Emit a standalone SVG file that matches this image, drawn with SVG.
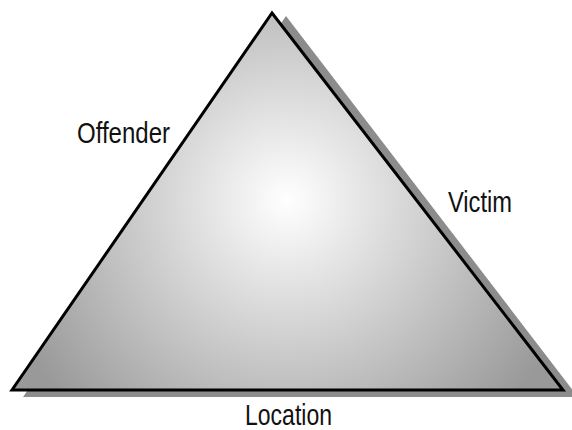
<svg xmlns="http://www.w3.org/2000/svg" width="572" height="430" viewBox="0 0 572 430">
<defs>
<radialGradient id="g" gradientUnits="userSpaceOnUse" cx="287" cy="200" r="300">
<stop offset="0" stop-color="#ffffff"/>
<stop offset="1" stop-color="#999999"/>
</radialGradient>
<style>
.lbl{font-family:"Liberation Sans",Arial,sans-serif;font-size:29px;fill:#111}
</style>
</defs>
<g id="shadow">
<polygon points="286,16 578,397 23,397" fill="#8c8c8c"/>
</g>
<g id="triangle">
<polygon points="272,13 563,390 12,390" fill="url(#g)" stroke="#000" stroke-width="3" stroke-linejoin="miter"/>
</g>
<g id="labels">
<text id="offender" class="lbl" x="77" y="143" textLength="93" lengthAdjust="spacingAndGlyphs">Offender</text>
<text id="victim" class="lbl" x="448" y="212" textLength="64" lengthAdjust="spacingAndGlyphs">Victim</text>
<text id="location" class="lbl" x="245" y="425" textLength="87" lengthAdjust="spacingAndGlyphs">Location</text>
</g>
<g id="connectors"/>
</svg>
